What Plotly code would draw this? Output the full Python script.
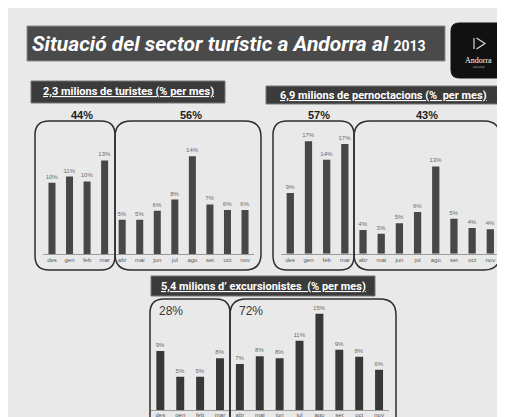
import plotly.graph_objects as go

W, H = 505, 417

months = ["des", "gen", "feb", "mar", "abr", "mai", "jun", "jul", "ago", "set", "oct", "nov"]

turistes = [10.2, 11.1, 10.4, 13.4, 4.9, 4.9, 6.2, 7.8, 14.0, 7.1, 6.3, 6.3]
pernoctacions = [9.2, 17.0, 14.2, 16.6, 3.6, 3.0, 4.6, 6.3, 13.2, 5.3, 3.9, 3.7]
excursionistes = [9.2, 5.2, 5.2, 8.1, 7.2, 8.4, 8.1, 10.8, 15.0, 9.4, 8.3, 6.3]

title_text = "Situació del sector turístic a Andorra al"
title_year = "2013"
sub_turistes = "2,3 milions de turistes (% per mes)"
sub_pernoct = "6,9 milions de pernoctacions (%  per mes)"
sub_excurs = "5,4 milions d\u2019 excursionistes  (% per mes)"
grp_turistes = ["44%", "56%"]
grp_pernoct = ["57%", "43%"]
grp_excurs = ["28%", "72%"]


def px(x):
    return x / W


def py(y):
    return 1 - y / H


BG = "#e9e9e9"
BAR = "#474747"

fig = go.Figure()

panels = [
    (turistes, "x", "y", 35.2, 245.8, 246.0, 6.98, 16, BAR, 0),
    (pernoctacions, "x2", "y2", 273.2, 491.4, 245.7, 6.61, 18, BAR, 0),
    (excursionistes, "x3", "y3", 142.4, 381.0, 402.3, 6.44, 16, "#383838", -2),
]

layout_axes = {}
for i, (vals, xa, ya, x0, x1, base, scale, ymax, col, stand) in enumerate(panels):
    fig.add_trace(go.Bar(
        x=months, y=vals, xaxis=xa, yaxis=ya,
        marker=dict(color=col, line=dict(width=0)),
        texttemplate="%{y:.0f}%", textposition="outside",
        constraintext="none",
        textfont=dict(size=6, color="#6a6a6a", family="Liberation Sans"),
        cliponaxis=False, showlegend=False, hoverinfo="skip",
    ))
    top = base - ymax * scale
    sfx = "" if i == 0 else str(i + 1)
    layout_axes["xaxis" + sfx] = dict(
        domain=[px(x0), px(x1)], anchor=ya, type="category",
        showline=True, linecolor="#9a9a9a", linewidth=1,
        showgrid=False, zeroline=False, ticks="",
        ticklabelstandoff=stand,
        tickfont=dict(size=6, color="#5a5a5a", family="Liberation Sans"),
        fixedrange=True,
    )
    layout_axes["yaxis" + sfx] = dict(
        domain=[py(base), py(top)], anchor=xa, range=[0, ymax],
        visible=False, fixedrange=True,
    )

shapes = []


def rrect(x0, y0, x1, y1, r, line_color, fill=None, width=1.5):
    pts = (
        f"M {px(x0 + r)},{py(y0)} L {px(x1 - r)},{py(y0)} "
        f"Q {px(x1)},{py(y0)} {px(x1)},{py(y0 + r)} "
        f"L {px(x1)},{py(y1 - r)} Q {px(x1)},{py(y1)} {px(x1 - r)},{py(y1)} "
        f"L {px(x0 + r)},{py(y1)} Q {px(x0)},{py(y1)} {px(x0)},{py(y1 - r)} "
        f"L {px(x0)},{py(y0 + r)} Q {px(x0)},{py(y0)} {px(x0 + r)},{py(y0)} Z"
    )
    d = dict(type="path", xref="paper", yref="paper", path=pts,
             line=dict(color=line_color, width=width), layer="above")
    if fill:
        d["fillcolor"] = fill
        d["layer"] = "below"
    shapes.append(d)


def rect(x0, y0, x1, y1, fill, line_color, width=1):
    shapes.append(dict(type="rect", xref="paper", yref="paper",
                       x0=px(x0), x1=px(x1), y0=py(y1), y1=py(y0),
                       fillcolor=fill, line=dict(color=line_color, width=width),
                       layer="below"))


# title bar
rect(19, 18, 437, 53, "#4a4a4a", "#8c8c8c", 1)
# logo
rrect(443, 15, 498, 70, 8, "#111111", fill="#111111", width=1)
shapes.append(dict(type="path", xref="paper", yref="paper",
                   path=f"M {px(466)},{py(30)} L {px(466)},{py(41)}",
                   line=dict(color="#d8d8d8", width=1.2), layer="above"))
shapes.append(dict(type="path", xref="paper", yref="paper",
                   path=f"M {px(468.5)},{py(30)} L {px(477)},{py(35.5)} L {px(468.5)},{py(41)}",
                   line=dict(color="#d8d8d8", width=1.2), layer="above"))

# subtitle bars
rect(23, 73, 217, 95, "#3b3b3b", "#777777", 1)
rect(258, 78, 492, 96, "#3b3b3b", "#777777", 1)
rect(143, 268, 367, 288, "#3b3b3b", "#777777", 1)

# group boxes
box_col = "#2e2e2e"
rrect(27, 113, 107, 262, 14, box_col)
rrect(107, 113, 253, 262, 16, box_col)
rrect(265, 113, 346, 262, 14, box_col)
rrect(346, 113, 492, 262, 16, box_col)
rrect(142, 291, 222, 425, 14, box_col)
rrect(222, 291, 388, 425, 16, box_col)

ann = []


def text(x, y, s, size, color, xanchor="center", family="Roboto", **kw):
    ann.append(dict(x=px(x), y=py(y), xref="paper", yref="paper", text=s,
                    showarrow=False, xanchor=xanchor, yanchor="middle",
                    font=dict(size=size, color=color, family=family), **kw))


text(22, 36, f"<b><i>{title_text}</i></b> <b>"
     f"<span style='font-size:14px'>{title_year}</span></b>", 21, "#ffffff",
     xanchor="left", family="Roboto")
text(470.5, 52, "Andorra", 8, "#ffffff", family="Liberation Serif")
text(470.5, 59, "turisme", 3, "#bbbbbb", family="DejaVu Sans")

text(120, 84, f"<b><u>{sub_turistes}</u></b>", 11, "#ffffff")
text(375, 87, f"<b><u>{sub_pernoct}</u></b>", 11, "#ffffff")
text(255, 278, f"<b><u>{sub_excurs}</u></b>", 11, "#ffffff")

text(74, 107, f"<b>{grp_turistes[0]}</b>", 11, "#1e1e1e", family="Liberation Sans")
text(183, 107, f"<b>{grp_turistes[1]}</b>", 11, "#1e1e1e", family="Liberation Sans")
text(311, 107, f"<b>{grp_pernoct[0]}</b>", 11, "#1e1e1e", family="Liberation Sans")
text(419, 107, f"<b>{grp_pernoct[1]}</b>", 11, "#1e1e1e", family="Liberation Sans")
text(163, 303, grp_excurs[0], 12, "#3a3a3a", family="Liberation Sans")
text(243, 303, grp_excurs[1], 12, "#3a3a3a", family="Liberation Sans")

fig.update_layout(
    width=W, height=H, margin=dict(l=0, r=0, t=0, b=0),
    paper_bgcolor=BG, plot_bgcolor="rgba(0,0,0,0)",
    bargap=0.6, shapes=shapes, annotations=ann, **layout_axes,
)

fig.write_html("out.html")
